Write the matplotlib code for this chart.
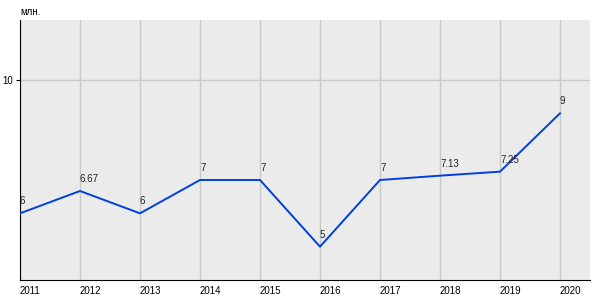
import matplotlib
matplotlib.use("Agg")
import matplotlib.pyplot as plt

plt.rcParams['font.family'] = ['Liberation Sans', 'DejaVu Sans']

years = [2011, 2012, 2013, 2014, 2015, 2016, 2017, 2018, 2019, 2020]
values = [6, 6.67, 6, 7, 7, 5, 7, 7.13, 7.25, 9]
labels = ['6', '6.67', '6', '7', '7', '5', '7', '7.13', '7.25', '9']

fig = plt.figure(figsize=(6, 3), dpi=100)
ax = fig.add_axes([20/600, 20/300, 570/600, 260/300])
ax.set_facecolor('#ebebeb')

ax.plot(years, values, color='#0040e0', linewidth=1.4, zorder=3)
for x, y, t in zip(years, values, labels):
    ax.annotate(t, (x, y), xytext=(0, 5), textcoords='offset points',
                ha='left', va='bottom', fontsize=7, color='#222222', zorder=4)

ax.set_xlim(2011, 2020.5)
ax.set_ylim(4, 11.8)
ax.set_xticks(years)
ax.set_xticklabels([str(y) for y in years], ha='left', fontsize=7)
ax.set_yticks([10])
ax.set_yticklabels(['10'], fontsize=7)
ax.tick_params(axis='x', length=0, pad=4)
ax.tick_params(axis='y', length=3, pad=2)
ax.grid(True, color='#c8c8c8', linewidth=1)
ax.set_axisbelow(True)
for s in ['top', 'right']:
    ax.spines[s].set_visible(False)
ax.spines['left'].set_color('black')
ax.spines['bottom'].set_color('black')

fig.text(20/600, 1 - 12/300, 'млн.', fontsize=7, ha='left', va='center')

fig.savefig('out.png', dpi=100)
